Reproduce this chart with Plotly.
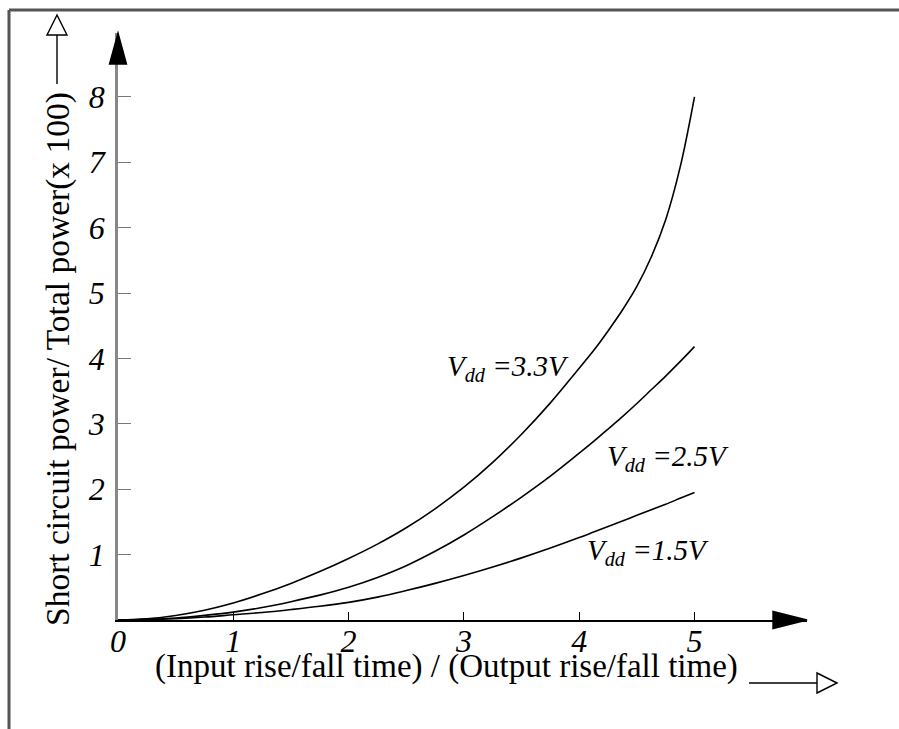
import plotly.graph_objects as go

# ---------------- data ----------------
x_vals = [0, 0.25, 0.5, 0.75, 1, 1.25, 1.5, 1.75, 2, 2.25, 2.5, 2.75, 3,
          3.25, 3.5, 3.75, 4, 4.125, 4.25, 4.375, 4.5, 4.625, 4.75, 4.875, 5]
vdd33 = [0, 0.02, 0.07, 0.15, 0.26, 0.40, 0.56, 0.74, 0.94, 1.16, 1.41, 1.70, 2.03,
         2.41, 2.84, 3.32, 3.85, 4.12, 4.42, 4.74, 5.10, 5.55, 6.12, 6.92, 8.0]
vdd25 = [0, 0.01, 0.03, 0.07, 0.12, 0.19, 0.28, 0.38, 0.50, 0.65, 0.83, 1.05, 1.30,
         1.58, 1.88, 2.20, 2.55, 2.73, 2.92, 3.11, 3.31, 3.52, 3.73, 3.95, 4.18]
vdd15 = [0, 0.005, 0.02, 0.045, 0.08, 0.115, 0.16, 0.21, 0.27, 0.35, 0.45, 0.56, 0.68,
         0.81, 0.95, 1.10, 1.26, 1.345, 1.43, 1.515, 1.60, 1.685, 1.77, 1.86, 1.95]

x_ticks = [0, 1, 2, 3, 4, 5]
y_ticks = [1, 2, 3, 4, 5, 6, 7, 8]

labels = ["V<sub>dd</sub> =3.3V", "V<sub>dd</sub> =2.5V", "V<sub>dd</sub> =1.5V"]
label_pos = [(2.84, 3.85), (4.22, 2.48), (4.05, 1.04)]

x_title = "(Input rise/fall time) / (Output rise/fall time)"
y_title = "Short circuit power/ Total power(x 100)"

# ---------------- geometry ----------------
W, H = 899, 729
L, T = 118, 33
R, B = W - 807, H - 620
PW, PH = W - L - R, H - T - B
XS, YS = 115.3, 65.4        # px per data unit
xmax, ymax = PW / XS, PH / YS

def px(xp):
    return (xp - L) / PW

def py(yp):
    return (H - B - yp) / PH

serif = "Liberation Serif"

fig = go.Figure()
for ys in (vdd33, vdd25, vdd15):
    fig.add_trace(go.Scatter(x=x_vals, y=ys, mode="lines",
                             line=dict(color="black", width=1.6, shape="spline", smoothing=1.0),
                             hoverinfo="skip", showlegend=False))

shapes = []
# frame (top and left)
shapes.append(dict(type="line", xref="paper", yref="paper", x0=px(9), x1=px(905), y0=py(10), y1=py(10),
                   line=dict(color="#555", width=3)))
shapes.append(dict(type="line", xref="paper", yref="paper", x0=px(9), x1=px(9), y0=py(10), y1=py(735),
                   line=dict(color="#555", width=3)))

def tri(pts, fill):
    p = "M " + " L ".join(f"{px(a)},{py(b)}" for a, b in pts) + " Z"
    return dict(type="path", xref="paper", yref="paper", path=p, fillcolor=fill,
                line=dict(color="black", width=1.4))

# axis arrowheads (filled)
shapes.append(tri([(118, 33), (109.5, 64), (126.5, 64)], "black"))
shapes.append(tri([(807, 620), (773, 611.5), (773, 628.5)], "black"))
# title arrows (hollow)
shapes.append(dict(type="line", xref="paper", yref="paper", x0=px(57), x1=px(57), y0=py(84), y1=py(35),
                   line=dict(color="black", width=1.4)))
shapes.append(tri([(57, 15), (47, 35), (67, 35)], "white"))
shapes.append(dict(type="line", xref="paper", yref="paper", x0=px(749), x1=px(817), y0=py(683), y1=py(683),
                   line=dict(color="black", width=1.4)))
shapes.append(tri([(837, 683), (817, 673), (817, 693)], "white"))

annotations = []
for txt, (ax_, ay_) in zip(labels, label_pos):
    annotations.append(dict(x=ax_, y=ay_, xref="x", yref="y", text=txt, showarrow=False,
                            xanchor="left", yanchor="middle",
                            font=dict(family=serif, size=29, color="black", style="italic")))
annotations.append(dict(x=px(446), y=py(666), xref="paper", yref="paper", text=x_title,
                        showarrow=False, xanchor="center", yanchor="middle",
                        font=dict(family=serif, size=33, color="black")))
annotations.append(dict(x=px(58), y=py(359), xref="paper", yref="paper", text=y_title,
                        showarrow=False, xanchor="center", yanchor="middle", textangle=-90,
                        font=dict(family=serif, size=33.5, color="black")))

fig.update_layout(
    width=W, height=H, margin=dict(l=L, r=R, t=T, b=B, pad=0),
    paper_bgcolor="white", plot_bgcolor="white",
    xaxis=dict(range=[0, xmax], tickvals=x_ticks, ticktext=[str(v) for v in x_ticks],
               ticks="inside", ticklen=8, tickwidth=1, tickcolor="black",
               showline=True, linecolor="black", linewidth=1.8, showgrid=False, zeroline=False,
               tickfont=dict(family=serif, size=32, color="black", style="italic"),
               ticklabelstandoff=-8, fixedrange=True),
    yaxis=dict(range=[0, ymax], tickvals=y_ticks, ticktext=[str(v) for v in y_ticks],
               ticks="inside", ticklen=13, tickwidth=1, tickcolor="#777",
               showline=True, linecolor="#888", linewidth=2.5, showgrid=False, zeroline=False,
               tickfont=dict(family=serif, size=32, color="black", style="italic"),
               ticklabelstandoff=4, fixedrange=True),
    shapes=shapes, annotations=annotations,
)

fig.write_html(
    "out.html",
    config={"displayModeBar": False},
    post_script="document.documentElement.style.overflow='hidden';"
                "document.body.style.margin='0';document.body.style.overflow='hidden';",
)
